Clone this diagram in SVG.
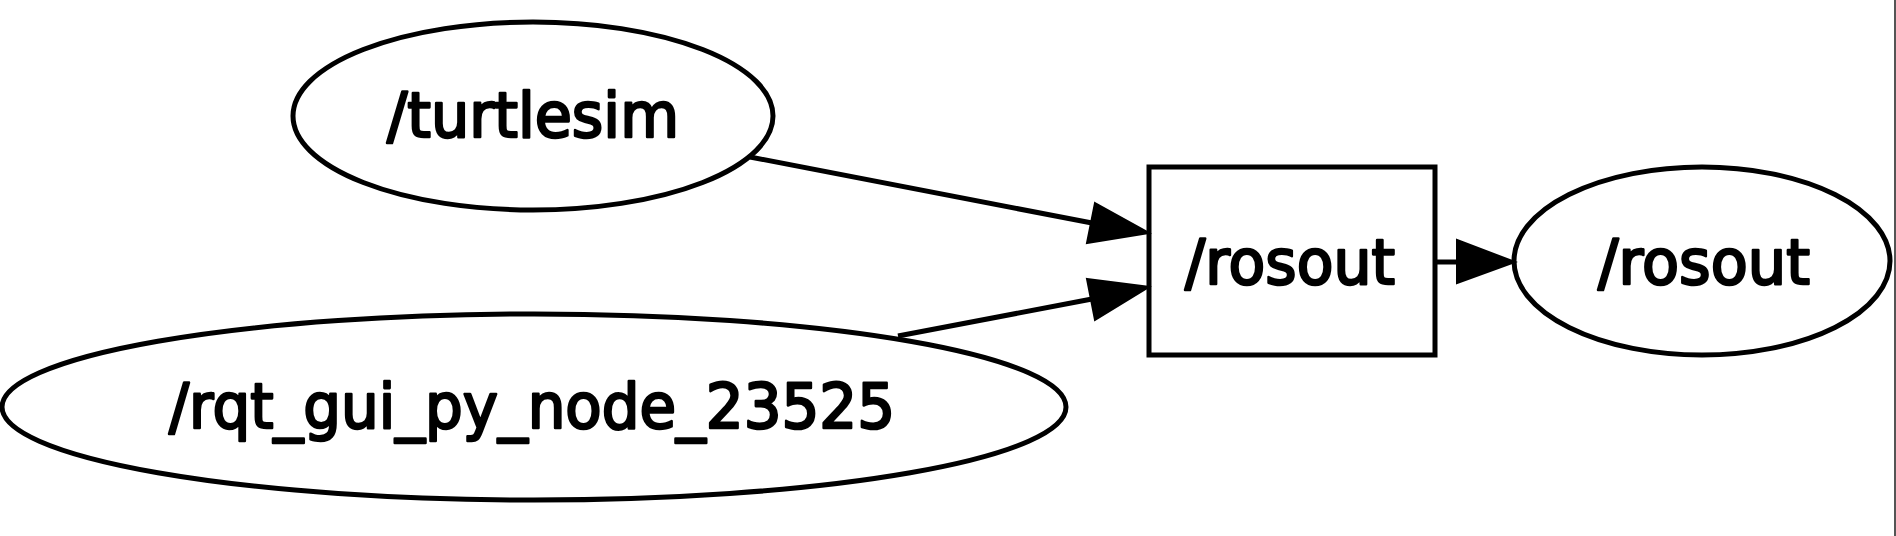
<svg xmlns="http://www.w3.org/2000/svg" width="1896" height="536" viewBox="0 0 1896 536">
<style>
.shape{fill:none;stroke:#000;stroke-width:5}
.edge{fill:none;stroke:#000;stroke-width:5}
.head{fill:#000;stroke:#000;stroke-width:2;stroke-linejoin:miter}
text{font-family:"DejaVu Sans",Verdana,sans-serif;font-size:63px;fill:#000;stroke:#000;stroke-width:2.6;stroke-linejoin:round;text-anchor:middle}
</style>
<rect x="0" y="0" width="1896" height="536" fill="#fff"/>
<line x1="1895" y1="0" x2="1895" y2="536" stroke="#555" stroke-width="2"/>
<g id="connectors">
<line class="edge" x1="750" y1="157" x2="1092" y2="223"/>
<polygon class="head" points="1095,203 1149,233 1087,243"/>
<line class="edge" x1="898" y1="336" x2="1092" y2="299"/>
<polygon class="head" points="1087,279 1149,287 1095,320"/>
<line class="edge" x1="1435" y1="262" x2="1458" y2="262"/>
<polygon class="head" points="1457,240 1515,262 1457,283"/>
</g>
<g id="node-turtlesim">
<ellipse class="shape" cx="533" cy="116" rx="240" ry="94"/>
<text x="533" y="137" textLength="292" lengthAdjust="spacingAndGlyphs">/turtlesim</text>
</g>
<g id="node-rqt">
<ellipse class="shape" cx="534" cy="407" rx="532" ry="93"/>
<text x="532" y="428" textLength="726" lengthAdjust="spacingAndGlyphs">/rqt_gui_py_node_23525</text>
</g>
<g id="topic-rosout">
<rect class="shape" x="1149" y="167" width="286" height="188"/>
<text x="1290" y="284" textLength="210" lengthAdjust="spacingAndGlyphs">/rosout</text>
</g>
<g id="node-rosout">
<ellipse class="shape" cx="1702" cy="261" rx="188" ry="94"/>
<text x="1704" y="284" textLength="212" lengthAdjust="spacingAndGlyphs">/rosout</text>
</g>
</svg>
